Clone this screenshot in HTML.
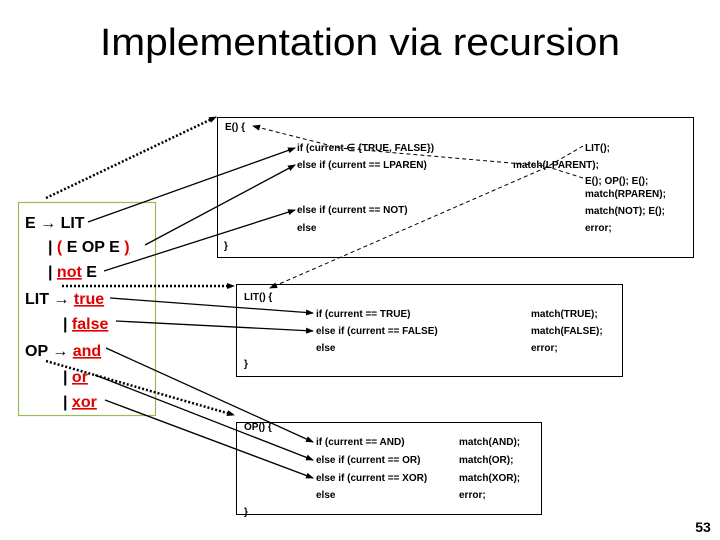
<!DOCTYPE html>
<html><head><meta charset="utf-8"><style>
html,body{margin:0;padding:0;background:#fff;}
svg{display:block;}
.c{font-family:"Liberation Sans",sans-serif;font-size:10px;font-weight:bold;fill:#000;}
.g{font-family:"Liberation Sans",sans-serif;font-size:16px;font-weight:bold;fill:#000;}
.r{fill:#e00000;text-decoration:underline;}
</style></head><body>
<svg width="720" height="540" viewBox="0 0 720 540" xmlns="http://www.w3.org/2000/svg">
<defs>
<marker id="a" markerWidth="8" markerHeight="6" refX="7" refY="3" orient="auto" markerUnits="userSpaceOnUse"><path d="M0,0 L8,3 L0,6 z" fill="#000"/></marker>
</defs>
<text x="360" y="55" text-anchor="middle" font-family="Liberation Sans,sans-serif" font-size="38" textLength="520" lengthAdjust="spacingAndGlyphs">Implementation via recursion</text>

<!-- boxes -->
<rect x="217.5" y="117.5" width="476" height="140" fill="none" stroke="#000"/>
<rect x="236.5" y="284.5" width="386" height="92" fill="none" stroke="#000"/>
<rect x="236.5" y="422.5" width="305" height="92" fill="none" stroke="#000"/>
<rect x="18.5" y="202.5" width="137" height="213" fill="none" stroke="#9bbb59" stroke-width="1.2"/>

<!-- grammar -->
<text class="g" x="25" y="228">E → LIT</text>
<text class="g" x="48" y="252">| <tspan class="r">(</tspan> E OP E <tspan class="r">)</tspan></text>
<text class="g" x="48" y="277">| <tspan class="r">not</tspan> E</text>
<text class="g" x="25" y="304">LIT → <tspan class="r">true</tspan></text>
<text class="g" x="63" y="329">| <tspan class="r">false</tspan></text>
<text class="g" x="25" y="356">OP → <tspan class="r">and</tspan></text>
<text class="g" x="63" y="382">| <tspan class="r">or</tspan></text>
<text class="g" x="63" y="407">| <tspan class="r">xor</tspan></text>

<!-- E box text -->
<text class="c" x="225" y="130">E() {</text>
<text class="c" x="297" y="151">if (current ∈ {TRUE, FALSE})</text>
<text class="c" x="297" y="168">else if (current == LPAREN)</text>
<text class="c" x="297" y="213">else if (current == NOT)</text>
<text class="c" x="297" y="231">else</text>
<text class="c" x="224" y="249">}</text>
<text class="c" x="585" y="151">LIT();</text>
<text class="c" x="513" y="168">match(LPARENT);</text>
<text class="c" x="585" y="184">E(); OP(); E();</text>
<text class="c" x="585" y="197">match(RPAREN);</text>
<text class="c" x="585" y="214">match(NOT); E();</text>
<text class="c" x="585" y="231">error;</text>

<!-- LIT box -->
<text class="c" x="244" y="300">LIT() {</text>
<text class="c" x="316" y="317">if (current == TRUE)</text>
<text class="c" x="316" y="334">else if (current == FALSE)</text>
<text class="c" x="316" y="351">else</text>
<text class="c" x="244" y="367">}</text>
<text class="c" x="531" y="317">match(TRUE);</text>
<text class="c" x="531" y="334">match(FALSE);</text>
<text class="c" x="531" y="351">error;</text>

<!-- OP box -->
<text class="c" x="244" y="430">OP() {</text>
<text class="c" x="316" y="445">if (current == AND)</text>
<text class="c" x="316" y="463">else if (current == OR)</text>
<text class="c" x="316" y="481">else if (current == XOR)</text>
<text class="c" x="316" y="498">else</text>
<text class="c" x="459" y="445">match(AND);</text>
<text class="c" x="459" y="463">match(OR);</text>
<text class="c" x="459" y="481">match(XOR);</text>
<text class="c" x="459" y="498">error;</text>
<text class="c" x="244" y="515">}</text>

<text x="703" y="532" text-anchor="middle" font-family="Liberation Sans,sans-serif" font-size="14" font-weight="bold">53</text>

<!-- solid arrows -->
<g stroke="#000" stroke-width="1.3" fill="none" marker-end="url(#a)">
<line x1="88" y1="222" x2="295" y2="148"/>
<line x1="145" y1="245" x2="295" y2="165"/>
<line x1="104" y1="271" x2="295" y2="210"/>
<line x1="110" y1="298" x2="313" y2="313"/>
<line x1="116" y1="321" x2="313" y2="331"/>
<line x1="106" y1="348" x2="313" y2="442"/>
<line x1="95" y1="375" x2="313" y2="460"/>
<line x1="105" y1="400" x2="313" y2="478"/>
</g>
<!-- dotted thick -->
<g stroke="#000" stroke-width="2.5" stroke-dasharray="2,2" fill="none" marker-end="url(#a)">
<line x1="46" y1="198" x2="216" y2="117"/>
<line x1="62" y1="286" x2="234" y2="286"/>
<line x1="46" y1="361" x2="234" y2="415"/>
</g>
<!-- dashed -->
<g stroke="#000" stroke-width="1" stroke-dasharray="4,3" fill="none" marker-end="url(#a)">
<polyline points="583,178 545,166 340,148 253,126"/>
<polyline points="583,146 545,168 270,288"/>
</g>
</svg>
</body></html>
